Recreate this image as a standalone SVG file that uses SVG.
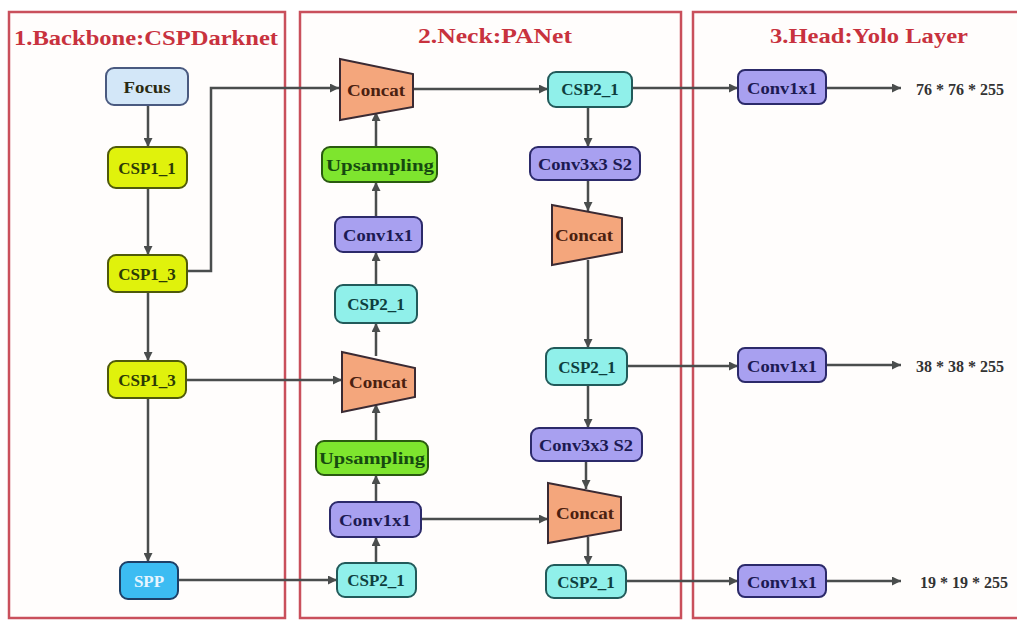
<svg xmlns="http://www.w3.org/2000/svg" width="1017" height="620" viewBox="0 0 1017 620">
<defs>
<marker id="ah" viewBox="0 0 10 10" refX="10" refY="5" markerWidth="10" markerHeight="9" markerUnits="userSpaceOnUse" orient="auto">
<path d="M0,0 L10,5 L0,10 z" fill="#4a4d4d"/>
</marker>
<style>
.panel{fill:#fffdfc;stroke:#c9505c;stroke-width:2.5}
.title{font-family:"Liberation Serif",serif;font-weight:bold;font-size:22px;fill:#c8323e;text-anchor:middle}
.lbl{font-family:"Liberation Serif",serif;font-weight:bold;font-size:17px;text-anchor:middle;dominant-baseline:central}
.out{font-family:"Liberation Serif",serif;font-weight:bold;font-size:16px;fill:#333;dominant-baseline:central}
.n{stroke-width:2}
.focus{fill:#d3e7f8;stroke:#4a5a80}
.yel{fill:#e0f20c;stroke:#4f5a0a}
.spp{fill:#3cbcf2;stroke:#1e3f66}
.cat{fill:#f4a67c;stroke:#3a2a33}
.up{fill:#7ee52e;stroke:#2a5a10}
.conv{fill:#a8a0f0;stroke:#2c2a6a}
.csp2{fill:#90f0ea;stroke:#225a5a}
.tdark{fill:#2a2a10}
.tyel{fill:#2c3a06}
.tspp{fill:#e6f5ff}
.tcat{fill:#4a2010}
.tup{fill:#164a10}
.tconv{fill:#1c1a52}
.tcsp2{fill:#0e3e3e}
.c{fill:none;stroke:#4a4d4d;stroke-width:2.5}
.ca{fill:none;stroke:#4a4d4d;stroke-width:2.5;marker-end:url(#ah)}
</style>
</defs>
<rect width="1017" height="620" fill="#ffffff"/>
<g id="panels">
<rect class="panel" x="9" y="12" width="276" height="606"/>
<rect class="panel" x="300" y="12" width="381" height="606"/>
<rect class="panel" x="693" y="12" width="330" height="606"/>
<text class="title" x="146" y="45" textLength="264" lengthAdjust="spacingAndGlyphs">1.Backbone:CSPDarknet</text>
<text class="title" x="495" y="43" textLength="154" lengthAdjust="spacingAndGlyphs">2.Neck:PANet</text>
<text class="title" x="869" y="43" textLength="198" lengthAdjust="spacingAndGlyphs">3.Head:Yolo Layer</text>
</g>
<g id="connectors">
<line class="ca" x1="148" y1="105" x2="148" y2="147"/>
<line class="ca" x1="148" y1="188" x2="148" y2="255"/>
<line class="ca" x1="148" y1="292" x2="148" y2="361"/>
<line class="ca" x1="148" y1="398" x2="148" y2="562"/>
<polyline class="ca" points="187,271 211,271 211,88 339,88"/>
<line class="ca" x1="187" y1="380" x2="342" y2="380"/>
<line class="ca" x1="178" y1="580" x2="337" y2="580"/>
<line class="ca" x1="376" y1="563" x2="376" y2="537"/>
<line class="ca" x1="376" y1="502" x2="376" y2="475"/>
<line class="ca" x1="376" y1="441" x2="376" y2="404"/>
<line class="ca" x1="376" y1="356" x2="376" y2="323"/>
<line class="ca" x1="376" y1="285" x2="376" y2="252"/>
<line class="ca" x1="376" y1="217" x2="376" y2="182"/>
<line class="ca" x1="376" y1="147" x2="376" y2="112"/>
<line class="ca" x1="421" y1="519" x2="548" y2="519"/>
<line class="ca" x1="413" y1="89" x2="548" y2="89"/>
<line class="ca" x1="588" y1="107" x2="588" y2="147"/>
<line class="ca" x1="588" y1="180" x2="588" y2="211"/>
<line class="ca" x1="588" y1="260" x2="588" y2="348"/>
<line class="ca" x1="588" y1="385" x2="588" y2="428"/>
<line class="ca" x1="586" y1="461" x2="586" y2="489"/>
<line class="ca" x1="588" y1="537" x2="588" y2="565"/>
<line class="ca" x1="632" y1="88" x2="738" y2="88"/>
<line class="ca" x1="627" y1="366" x2="738" y2="366"/>
<line class="ca" x1="626" y1="581" x2="738" y2="581"/>
<line class="ca" x1="826" y1="88" x2="901" y2="88"/>
<line class="ca" x1="826" y1="365" x2="901" y2="365"/>
<line class="ca" x1="826" y1="581" x2="901" y2="581"/>
</g>
<g id="focus"><rect class="n focus" x="106" y="68" width="82" height="37" rx="8"/><text class="lbl tdark" x="147" y="87" textLength="47" lengthAdjust="spacingAndGlyphs">Focus</text></g>
<g id="csp1_1"><rect class="n yel" x="108" y="147" width="79" height="41" rx="8"/><text class="lbl tyel" x="147" y="168">CSP1_1</text></g>
<g id="csp1_3a"><rect class="n yel" x="108" y="255" width="79" height="37" rx="8"/><text class="lbl tyel" x="147" y="274">CSP1_3</text></g>
<g id="csp1_3b"><rect class="n yel" x="108" y="361" width="78" height="37" rx="8"/><text class="lbl tyel" x="147" y="380">CSP1_3</text></g>
<g id="spp"><rect class="n spp" x="120" y="562" width="58" height="37" rx="8"/><text class="lbl tspp" x="149" y="581">SPP</text></g>
<g id="concat1"><polygon class="n cat" points="340,59 413,74 413,107 340,120"/><text class="lbl tcat" x="376" y="90" textLength="58" lengthAdjust="spacingAndGlyphs">Concat</text></g>
<g id="upsampling1"><rect class="n up" x="322" y="147" width="115" height="35" rx="8"/><text class="lbl tup" x="380" y="165" textLength="108" lengthAdjust="spacingAndGlyphs">Upsampling</text></g>
<g id="conv1x1a"><rect class="n conv" x="335" y="217" width="87" height="35" rx="8"/><text class="lbl tconv" x="378" y="235" textLength="70" lengthAdjust="spacingAndGlyphs">Conv1x1</text></g>
<g id="csp2_1a"><rect class="n csp2" x="335" y="285" width="82" height="38" rx="8"/><text class="lbl tcsp2" x="376" y="304">CSP2_1</text></g>
<g id="concat2"><polygon class="n cat" points="342,352 415,368 415,397 342,412"/><text class="lbl tcat" x="378" y="382" textLength="58" lengthAdjust="spacingAndGlyphs">Concat</text></g>
<g id="upsampling2"><rect class="n up" x="316" y="441" width="112" height="34" rx="8"/><text class="lbl tup" x="372" y="458" textLength="106" lengthAdjust="spacingAndGlyphs">Upsampling</text></g>
<g id="conv1x1b"><rect class="n conv" x="330" y="502" width="91" height="35" rx="8"/><text class="lbl tconv" x="375" y="520" textLength="72" lengthAdjust="spacingAndGlyphs">Conv1x1</text></g>
<g id="csp2_1b"><rect class="n csp2" x="337" y="563" width="79" height="34" rx="8"/><text class="lbl tcsp2" x="376" y="580">CSP2_1</text></g>
<g id="csp2_1c"><rect class="n csp2" x="548" y="72" width="84" height="35" rx="8"/><text class="lbl tcsp2" x="590" y="89">CSP2_1</text></g>
<g id="conv3x3a"><rect class="n conv" x="530" y="147" width="110" height="33" rx="8"/><text class="lbl tconv" x="585" y="164" textLength="94" lengthAdjust="spacingAndGlyphs">Conv3x3 S2</text></g>
<g id="concat3"><polygon class="n cat" points="552,205 622,218 622,252 552,265"/><text class="lbl tcat" x="584" y="235" textLength="58" lengthAdjust="spacingAndGlyphs">Concat</text></g>
<g id="csp2_1d"><rect class="n csp2" x="546" y="348" width="81" height="37" rx="8"/><text class="lbl tcsp2" x="587" y="367">CSP2_1</text></g>
<g id="conv3x3b"><rect class="n conv" x="531" y="428" width="111" height="33" rx="8"/><text class="lbl tconv" x="586" y="445" textLength="94" lengthAdjust="spacingAndGlyphs">Conv3x3 S2</text></g>
<g id="concat4"><polygon class="n cat" points="548,483 621,497 621,530 548,543"/><text class="lbl tcat" x="585" y="513" textLength="58" lengthAdjust="spacingAndGlyphs">Concat</text></g>
<g id="csp2_1e"><rect class="n csp2" x="546" y="565" width="80" height="33" rx="8"/><text class="lbl tcsp2" x="586" y="582">CSP2_1</text></g>
<g id="head1"><rect class="n conv" x="738" y="70" width="88" height="34" rx="7"/><text class="lbl tconv" x="782" y="88" textLength="70" lengthAdjust="spacingAndGlyphs">Conv1x1</text></g>
<g id="head2"><rect class="n conv" x="738" y="348" width="88" height="34" rx="7"/><text class="lbl tconv" x="782" y="366" textLength="70" lengthAdjust="spacingAndGlyphs">Conv1x1</text></g>
<g id="head3"><rect class="n conv" x="738" y="565" width="88" height="32" rx="7"/><text class="lbl tconv" x="782" y="582" textLength="70" lengthAdjust="spacingAndGlyphs">Conv1x1</text></g>
<g id="outputs">
<text class="out" x="916" y="89">76 * 76 * 255</text>
<text class="out" x="916" y="366">38 * 38 * 255</text>
<text class="out" x="920" y="582">19 * 19 * 255</text>
</g>
</svg>
